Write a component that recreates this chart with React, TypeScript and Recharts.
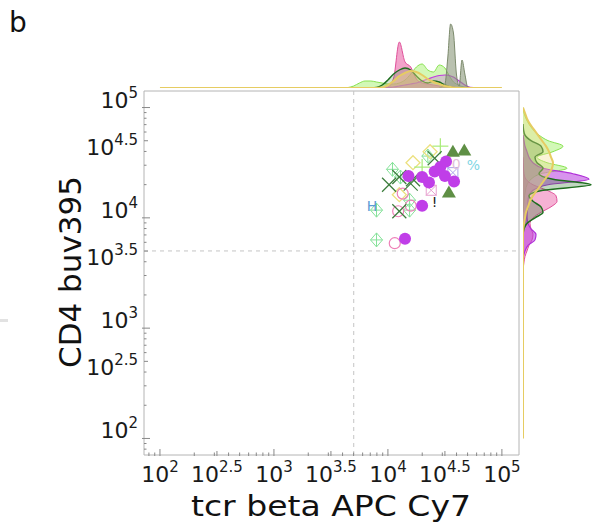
import React from 'react';
import {
  ScatterChart,
  Scatter,
  XAxis,
  YAxis,
  ReferenceLine,
  ReferenceArea,
  AreaChart,
  Area,
} from 'recharts';

const FONT = '"DejaVu Sans", "Bitstream Vera Sans", sans-serif';

// scatter points, log10 of fluorescence (x = tcr beta APC Cy7, y = CD4 buv395)
const purpleDots = [
  { x: 4.18, y: 4.38 }, { x: 4.3, y: 4.37 }, { x: 4.36, y: 4.32 }, { x: 4.41, y: 4.42 },
  { x: 4.46, y: 4.46 }, { x: 4.51, y: 4.51 }, { x: 4.5, y: 4.38 }, { x: 4.58, y: 4.33 },
  { x: 4.3, y: 4.11 }, { x: 4.15, y: 3.81 },
];
const greenTriangles = [{ x: 4.57, y: 4.6 }, { x: 4.67, y: 4.61 }, { x: 4.535, y: 4.23 }];
const greenCrosses = [
  { x: 4.01, y: 4.3 }, { x: 4.1, y: 4.37 }, { x: 4.2, y: 4.31 },
  { x: 4.1, y: 4.06 }, { x: 4.41, y: 4.54 }, { x: 4.22, y: 4.35 },
];
const mintDiamonds = [
  { x: 4.04, y: 4.44 }, { x: 4.11, y: 4.37 }, { x: 4.35, y: 4.56 },
  { x: 4.19, y: 4.16 }, { x: 4.19, y: 4.07 }, { x: 3.9, y: 4.07 }, { x: 3.9, y: 3.8 },
];
const yellowDiamonds = [{ x: 4.37, y: 4.6 }, { x: 4.22, y: 4.5 }, { x: 4.1, y: 4.21 }];
const limePlus = [{ x: 4.46, y: 4.65 }, { x: 4.3, y: 4.46 }];
const pinkRings = [{ x: 4.13, y: 4.22 }, { x: 4.2, y: 4.11 }, { x: 4.09, y: 4.06 }, { x: 4.06, y: 3.77 }];
const pinkBoxes = [{ x: 4.38, y: 4.25 }];
const lavenderBoxes = [{ x: 4.57, y: 4.41 }];
const textMarks = [
  { x: 3.86, y: 4.11, label: 'H' },
  { x: 4.75, y: 4.48, label: '%' },
  { x: 4.41, y: 4.14, label: '!' },
  { x: 4.6, y: 4.49, label: '0' },
];
const textColors: Record<string, string> = { H: '#5b9bd5', '%': '#7fd6e4', '!': '#222222', '0': '#e2c2d8' };

// top marginal density (x in log10, heights in px); null = outside the curve
const topGrid = [2.0, 3.4, 3.45, 3.5, 3.55, 3.6, 3.65, 3.7, 3.75, 3.8, 3.85, 3.9, 3.95, 4.0, 4.05, 4.1, 4.15, 4.2, 4.25, 4.3, 4.35, 4.4, 4.45, 4.5, 4.525, 4.55, 4.575, 4.6, 4.625, 4.65, 4.675, 4.7, 4.75, 4.8, 4.85, 4.9, 5.0];
const topLime = [null, null, null, null, null, 0, 0.5, 2, 5, 7, 7, 6, 5, 4, 4, 5, 8, 14, 21, 24, 18, 16, 23, 20, 15, 10, 6, 4, 2.5, 1.5, 1, 0.5, 0, null, null, null, null];
const topPink = [null, null, null, null, null, null, null, null, null, null, null, null, 0, 1, 10, 46, 26, 21, 9, 5, 4, 3, 2, 1.5, 1.2, 1, 0.8, 0.5, 0.3, 0, null, null, null, null, null, null, null];
const topGrey = [null, null, null, null, null, null, null, null, null, null, null, null, null, null, null, null, null, null, null, null, null, null, 0, 4, 30, 64, 55, 15, 2, 28, 14, 1, 0, null, null, null, null];
const topDark = [null, null, null, null, null, null, null, null, null, null, 0, 0.5, 3, 8, 14, 18, 20, 18, 12, 7, 5, 7, 6, 3, 2, 1, 0.5, 0, null, null, null, null, null, null, null, null, null];
const topPurple = [null, null, null, null, null, null, null, null, null, null, null, null, 0, 0.5, 1, 2, 3, 4, 5, 7, 9, 11, 12.5, 13, 12.8, 12, 11, 9, 7, 5, 3, 1.5, 0.3, 0, null, null, null];
const topYellow = [0, 0, 0, 0, 0, 0, 0, 0, 0, 0, 0, 0, 0.5, 3, 7, 12, 15, 17, 16, 13, 9, 6, 4, 2, 1.5, 1, 0.5, 0.2, 0, 0, 0, 0, 0, 0, 0, 0, 0];

// right marginal density (y in log10, widths in px)
const rightGrid = [2.0, 3.5, 3.55, 3.6, 3.65, 3.7, 3.75, 3.8, 3.85, 3.9, 3.95, 4.0, 4.05, 4.1, 4.15, 4.2, 4.25, 4.3, 4.35, 4.4, 4.45, 4.5, 4.55, 4.6, 4.65, 4.7, 4.75, 4.8, 4.85, 4.9, 4.95, 5.0];
const rightLime = [null, null, null, null, null, null, null, null, null, null, null, null, 0, 0.5, 1, 1.5, 2.5, 4, 8, 18, 44, 24, 14, 30, 40, 25, 16, 10, 6, 3, 1, 0];
const rightPink = [null, 0, 0.3, 1, 2, 4, 6, 9, 10, 8, 7, 10, 18, 28, 34, 33, 24, 10, 3, 1, 0.5, 0.3, 0, null, null, null, null, null, null, null, null, null];
const rightPurple = [null, null, null, 0, 0.5, 2, 5, 12, 13, 8, 5, 4, 4, 5, 5, 6, 10, 25, 66, 50, 20, 10, 6, 4, 2, 1, 0, null, null, null, null, null];
const rightDark = [null, null, null, null, null, null, null, null, 0, 1, 4, 12, 20, 18, 10, 6, 20, 68, 30, 16, 20, 14, 12, 20, 18, 8, 2, 0.5, 0, null, null, null];
const rightYellow = [0, 0, 0, 0, 0, 0, 0, 0, 0, 0.3, 1, 2, 3, 5, 7, 10, 14, 18, 22, 26, 29, 30, 28, 26, 23, 19, 15, 11, 7, 4, 2, 0];

// ticks
const majorTicks = [2, 3, 4, 5];
const xLabelTicks = [2, 2.5, 3, 3.5, 4, 4.5, 5];
const yLabelTicks = [2, 2.699, 3, 3.699, 4, 4.699, 5];
const tickExponents = ['2', '2.5', '3', '3.5', '4', '4.5', '5'];
const minorSteps = [2, 3, 4, 5, 6, 7, 8, 9];
const decades = [1, 2, 3, 4];
const gateX = 3.7;
const gateY = 3.7;

const X_DOMAIN: [number, number] = [1.86, 5.15];
const Y_DOMAIN: [number, number] = [1.85, 5.15];

const minorTicks = (lo: number, hi: number, skip: number[]) =>
  decades
    .flatMap(d => minorSteps.map(m => d + Math.log10(m)))
    .filter(v => v > lo && v < hi && !skip.some(s => Math.abs(s - v) < 0.01));

const xTicks = [...xLabelTicks, ...minorTicks(X_DOMAIN[0], X_DOMAIN[1], xLabelTicks)].sort((a, b) => a - b);
const yTicks = [...yLabelTicks, ...minorTicks(Y_DOMAIN[0], Y_DOMAIN[1], yLabelTicks)].sort((a, b) => a - b);

const topData = topGrid.map((x, i) => ({
  x, lime: topLime[i], pink: topPink[i], grey: topGrey[i],
  dark: topDark[i], purple: topPurple[i], yellow: topYellow[i],
}));
const rightData = rightGrid.map((y, i) => ({
  y, lime: rightLime[i], pink: rightPink[i], purple: rightPurple[i],
  dark: rightDark[i], yellow: rightYellow[i],
}));

// "10" + superscript drawn as two texts (DejaVu advance widths)
const BASE_SIZE = 22;
const SUP_SIZE = 15;
const BASE_W = 2 * 0.636 * BASE_SIZE;
const supWidth = (exp: string) =>
  exp.split('').reduce((s, c) => s + (c === '.' ? 0.318 : 0.636) * SUP_SIZE, 0);

const TickLabel = ({ x, y, exp, anchor }: any) => {
  const w = BASE_W + supWidth(exp);
  const start = anchor === 'middle' ? x - w / 2 : x - w;
  return (
    <g fontFamily={FONT} fill="#1a1a1a">
      <text x={start} y={y} fontSize={BASE_SIZE}>10</text>
      <text x={start + BASE_W} y={y - 10} fontSize={SUP_SIZE}>{exp}</text>
    </g>
  );
};

const XTick = (props: any) => {
  const { x, y, payload } = props;
  const v = payload.value;
  const i = xLabelTicks.indexOf(v);
  const len = majorTicks.includes(v) ? 6 : i >= 0 ? 4 : 2.5;
  return (
    <g>
      <line x1={x} x2={x} y1={y + 1} y2={y - len} stroke="#888" />
      {i >= 0 && <TickLabel x={x} y={y + 27} exp={tickExponents[i]} anchor="middle" />}
    </g>
  );
};

const YTick = (props: any) => {
  const { x, y, payload } = props;
  const v = payload.value;
  const i = yLabelTicks.indexOf(v);
  const major = majorTicks.includes(v);
  const len = major ? 6 : i >= 0 ? 4 : 2.5;
  return (
    <g>
      <line x1={x - (major ? 2 : 0)} x2={x + len} y1={y} y2={y} stroke="#888" />
      {i >= 0 && <TickLabel x={x - 6} y={y + (major ? 0 : 14)} exp={tickExponents[i]} anchor="end" />}
    </g>
  );
};

// marker shapes
const filledCircle = (p: any) => <circle cx={p.cx} cy={p.cy} r={6} fill="#c03ee8" />;
const ring = (p: any) => <circle cx={p.cx} cy={p.cy} r={5.5} fill="none" stroke="#ee80b8" strokeWidth={1.2} />;
const triangle = (p: any) => (
  <polygon points={`${p.cx},${p.cy - 7} ${p.cx - 7},${p.cy + 5} ${p.cx + 7},${p.cy + 5}`} fill="#5f8f45" />
);
const cross = (p: any) => (
  <g stroke="#3c7d3c" strokeWidth={1.2}>
    <line x1={p.cx - 7} y1={p.cy - 7} x2={p.cx + 7} y2={p.cy + 7} />
    <line x1={p.cx - 7} y1={p.cy + 7} x2={p.cx + 7} y2={p.cy - 7} />
  </g>
);
const diamondCross = (p: any) => (
  <g stroke="#86e29a" strokeWidth={1} fill="none">
    <polygon points={`${p.cx},${p.cy - 7} ${p.cx + 6},${p.cy} ${p.cx},${p.cy + 7} ${p.cx - 6},${p.cy}`} />
    <line x1={p.cx} y1={p.cy - 7} x2={p.cx} y2={p.cy + 7} />
    <line x1={p.cx - 6} y1={p.cy} x2={p.cx + 6} y2={p.cy} />
  </g>
);
const openDiamond = (p: any) => (
  <polygon
    points={`${p.cx},${p.cy - 7} ${p.cx + 7},${p.cy} ${p.cx},${p.cy + 7} ${p.cx - 7},${p.cy}`}
    fill="none" stroke="#ece07e" strokeWidth={1.3}
  />
);
const plus = (p: any) => (
  <g stroke="#a8ec78" strokeWidth={1.2}>
    <line x1={p.cx - 8} y1={p.cy} x2={p.cx + 8} y2={p.cy} />
    <line x1={p.cx} y1={p.cy - 8} x2={p.cx} y2={p.cy + 8} />
  </g>
);
const boxX = (color: string) => (p: any) => (
  <g stroke={color} strokeWidth={1} fill="none">
    <rect x={p.cx - 5} y={p.cy - 5} width={10} height={10} />
    <line x1={p.cx - 5} y1={p.cy - 5} x2={p.cx + 5} y2={p.cy + 5} />
    <line x1={p.cx - 5} y1={p.cy + 5} x2={p.cx + 5} y2={p.cy - 5} />
  </g>
);
const textMark = (p: any) => (
  <text x={p.cx} y={p.cy + 5} textAnchor="middle" fontFamily={FONT} fontSize={14}
    fill={textColors[p.payload.label]}>{p.payload.label}</text>
);

const areaProps = { type: 'monotone' as const, isAnimationActive: false, dot: false, activeDot: false };

export default function App() {
  return (
    <div style={{ position: 'absolute', left: 0, top: 0, width: 596, height: 525, background: '#fff' }}>
      <div style={{ position: 'absolute', left: 0, top: 0 }}>
        <AreaChart width={596} height={92} data={topData} margin={{ top: 18, right: 77, bottom: 4, left: 144 }}>
          <XAxis type="number" dataKey="x" domain={X_DOMAIN} allowDataOverflow hide />
          <YAxis type="number" domain={[0, 70]} allowDataOverflow hide />
          <Area {...areaProps} dataKey="lime" stroke="#86e24e" strokeWidth={1} fill="#9cf060" fillOpacity={0.45} />
          <Area {...areaProps} dataKey="pink" stroke="#e0509a" strokeWidth={1} fill="#e8559f" fillOpacity={0.55} />
          <Area {...areaProps} dataKey="purple" stroke="#c03ae0" strokeWidth={1.2} fill="#c65ae6" fillOpacity={0.3} />
          <Area {...areaProps} dataKey="dark" stroke="#1f6e1f" strokeWidth={1.4} fill="#4a8a4a" fillOpacity={0.25} />
          <Area {...areaProps} dataKey="grey" stroke="#7c8a6c" strokeWidth={1} fill="#8a977a" fillOpacity={0.6} />
          <Area {...areaProps} dataKey="yellow" stroke="#e6cc62" strokeWidth={2} fill="#f0dc8a" fillOpacity={0.4} />
        </AreaChart>
      </div>
      <div style={{ position: 'absolute', left: 0, top: 0 }}>
        <AreaChart layout="vertical" width={596} height={525} data={rightData} margin={{ top: 91, right: 3, bottom: 70, left: 523 }}>
          <XAxis type="number" domain={[0, 70]} allowDataOverflow hide />
          <YAxis type="number" dataKey="y" domain={Y_DOMAIN} allowDataOverflow reversed hide />
          <Area {...areaProps} dataKey="lime" stroke="#86e24e" strokeWidth={1} fill="#9cf060" fillOpacity={0.45} />
          <Area {...areaProps} dataKey="pink" stroke="#e0509a" strokeWidth={1} fill="#e8559f" fillOpacity={0.45} />
          <Area {...areaProps} dataKey="purple" stroke="#b030d8" strokeWidth={1.2} fill="#b83ae0" fillOpacity={0.55} />
          <Area {...areaProps} dataKey="dark" stroke="#1f6e1f" strokeWidth={1.5} fill="#2e7a2e" fillOpacity={0.3} />
          <Area {...areaProps} dataKey="yellow" stroke="#e6cc62" strokeWidth={2} fill="#f0dc8a" fillOpacity={0.35} />
        </AreaChart>
      </div>
      <div style={{ position: 'absolute', left: 0, top: 0 }}>
        <ScatterChart width={596} height={525} margin={{ top: 91, right: 77, bottom: 10, left: 44 }}>
          <XAxis
            type="number" dataKey="x" domain={X_DOMAIN} allowDataOverflow
            ticks={xTicks} interval={0} height={60} tickSize={0} tickMargin={0}
            axisLine={false} tickLine={false} tick={XTick}
          />
          <YAxis
            type="number" dataKey="y" domain={Y_DOMAIN} allowDataOverflow
            ticks={yTicks} interval={0} width={100} tickSize={0} tickMargin={0}
            axisLine={false} tickLine={false} tick={YTick}
          />
          <ReferenceArea x1={X_DOMAIN[0]} x2={X_DOMAIN[1]} y1={Y_DOMAIN[0]} y2={Y_DOMAIN[1]}
            fill="none" stroke="#b4b4b4" strokeWidth={1} ifOverflow="visible" />
          <ReferenceLine x={gateX} stroke="#c4c4c4" strokeDasharray="4 4" />
          <ReferenceLine y={gateY} stroke="#c4c4c4" strokeDasharray="4 4" />
          <Scatter data={mintDiamonds} shape={diamondCross} isAnimationActive={false} />
          <Scatter data={yellowDiamonds} shape={openDiamond} isAnimationActive={false} />
          <Scatter data={limePlus} shape={plus} isAnimationActive={false} />
          <Scatter data={pinkRings} shape={ring} isAnimationActive={false} />
          <Scatter data={pinkBoxes} shape={boxX('#e8a0d0')} isAnimationActive={false} />
          <Scatter data={lavenderBoxes} shape={boxX('#aca4ec')} isAnimationActive={false} />
          <Scatter data={greenCrosses} shape={cross} isAnimationActive={false} />
          <Scatter data={greenTriangles} shape={triangle} isAnimationActive={false} />
          <Scatter data={purpleDots} shape={filledCircle} isAnimationActive={false} />
          <Scatter data={textMarks} shape={textMark} isAnimationActive={false} />
        </ScatterChart>
      </div>
      <svg width={596} height={525} style={{ position: 'absolute', left: 0, top: 0, pointerEvents: 'none' }}>
        <text x={9} y={32} fontFamily={FONT} fontSize={28} fill="#111">b</text>
        <rect x={0} y={319} width={8} height={3} fill="#e2e2e2" />
        <text x={331} y={516} textAnchor="middle" fontFamily={FONT} fontSize={29} fill="#111"
          textLength={280} lengthAdjust="spacingAndGlyphs">tcr beta APC Cy7</text>
        <text x={81} y={272} textAnchor="middle" fontFamily={FONT} fontSize={31} fill="#111"
          transform="rotate(-90 81 272)">CD4 buv395</text>
      </svg>
    </div>
  );
}
